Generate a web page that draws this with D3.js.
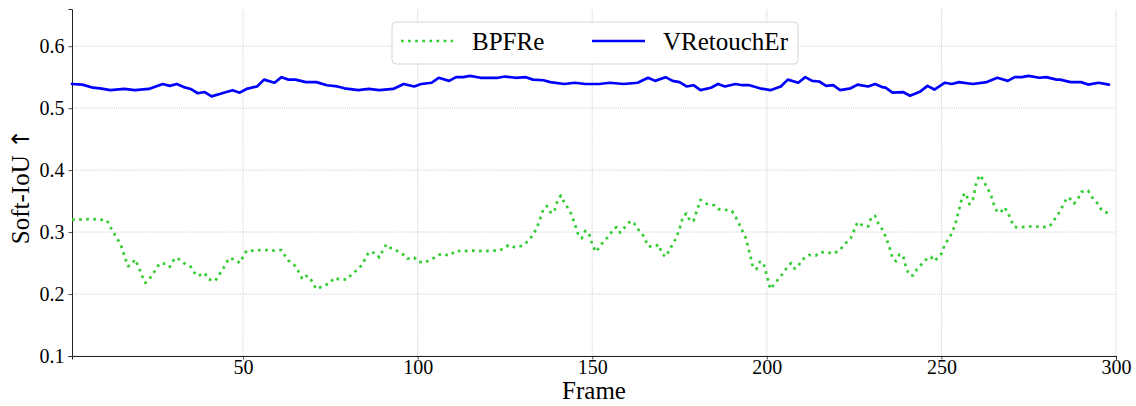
<!DOCTYPE html>
<html>
<head>
<meta charset="utf-8">
<script src="https://cdn.jsdelivr.net/npm/d3@7"></script>
<style>
  html, body { margin: 0; padding: 0; background: #fff; }
  svg { display: block; font-family: "Liberation Serif", "Times New Roman", serif; }
</style>
</head>
<body>
<svg id="chart" width="1136" height="406"></svg>
<script>
// ---- data ----
const seriesNames = ["BPFRe", "VRetouchEr"];
const xTicks = [50, 100, 150, 200, 250, 300];
const yTicks = [0.1, 0.2, 0.3, 0.4, 0.5, 0.6];
const xLabel = "Frame";
const yLabelText = "Soft-IoU ";
const yLabelArrow = "\u2191";

const bpfreFrames = [1,3,5,7,9,11,12,13,14,15,16,17,18,19,20,21,22,23,24,25,26,28,29,30,31,33,35,36,37,39,40,42,43,44,45,46,48,49,50,51,53,55,57,59,61,62,63,65,66,67,68,69,70,71,73,75,76,78,80,81,83,84,85,86,88,89,90,91,92,94,96,97,99,100,102,104,106,107,109,111,113,115,117,119,121,123,125,126,128,130,132,133,134,135,136,137,138,139,140,141,142,143,144,145,146,147,148,149,150,151,152,153,155,156,157,158,160,161,162,163,164,165,166,168,169,170,171,172,173,174,175,176,177,178,179,180,181,183,185,186,188,190,191,192,193,194,195,196,197,198,199,200,201,202,203,205,206,207,208,209,210,212,214,215,217,219,221,222,224,225,226,227,229,230,231,232,233,234,235,236,237,238,239,240,241,242,243,244,246,247,248,250,251,252,253,254,255,256,257,258,259,260,261,262,263,264,265,266,267,268,269,270,271,273,275,277,279,281,282,283,284,285,286,287,288,289,290,292,293,294,295,296,298];
const bpfreValues = [0.320,0.320,0.321,0.321,0.320,0.319,0.308,0.298,0.289,0.279,0.262,0.245,0.247,0.256,0.245,0.230,0.218,0.223,0.231,0.239,0.249,0.249,0.244,0.254,0.259,0.250,0.244,0.235,0.229,0.234,0.224,0.221,0.230,0.238,0.248,0.258,0.255,0.250,0.260,0.270,0.270,0.271,0.271,0.270,0.271,0.262,0.254,0.245,0.235,0.224,0.229,0.228,0.217,0.208,0.213,0.218,0.226,0.223,0.224,0.232,0.240,0.247,0.257,0.268,0.266,0.259,0.270,0.280,0.275,0.270,0.263,0.257,0.259,0.252,0.251,0.256,0.263,0.265,0.262,0.270,0.269,0.270,0.270,0.269,0.270,0.270,0.274,0.279,0.275,0.278,0.287,0.296,0.305,0.320,0.337,0.342,0.332,0.331,0.350,0.359,0.348,0.339,0.329,0.313,0.296,0.290,0.302,0.299,0.280,0.268,0.275,0.283,0.295,0.305,0.308,0.299,0.312,0.318,0.314,0.305,0.300,0.290,0.277,0.277,0.280,0.265,0.260,0.270,0.280,0.290,0.305,0.325,0.330,0.318,0.318,0.335,0.352,0.345,0.343,0.337,0.336,0.334,0.325,0.314,0.302,0.290,0.268,0.244,0.240,0.252,0.251,0.230,0.208,0.215,0.222,0.236,0.245,0.250,0.241,0.245,0.255,0.263,0.262,0.267,0.268,0.265,0.271,0.279,0.290,0.303,0.316,0.312,0.309,0.325,0.326,0.313,0.305,0.293,0.278,0.258,0.253,0.264,0.262,0.240,0.230,0.230,0.240,0.246,0.258,0.260,0.253,0.265,0.280,0.289,0.298,0.313,0.335,0.358,0.363,0.345,0.352,0.380,0.392,0.384,0.372,0.363,0.345,0.332,0.332,0.340,0.332,0.318,0.308,0.308,0.309,0.309,0.308,0.309,0.317,0.325,0.334,0.345,0.356,0.353,0.346,0.352,0.365,0.367,0.357,0.351,0.344,0.334,0.330];

const vretFrames = [1,4,7,9,12,16,19,23,27,29,31,33,35,37,39,41,44,47,49,51,54,56,59,61,63,65,68,71,74,77,79,83,86,89,93,96,99,101,104,106,109,111,113,115,118,123,125,128,131,133,136,138,142,145,148,152,155,159,163,166,168,171,173,175,177,179,181,184,186,188,191,193,195,198,201,204,206,209,211,213,215,217,219,221,224,226,229,231,233,234,236,239,241,244,246,248,251,253,255,259,263,266,269,271,273,275,278,280,283,284,287,290,292,295,298];
const vretValues = [0.539,0.538,0.533,0.532,0.529,0.531,0.529,0.531,0.539,0.536,0.539,0.534,0.531,0.524,0.526,0.519,0.524,0.529,0.525,0.531,0.535,0.546,0.541,0.550,0.546,0.546,0.542,0.542,0.537,0.535,0.532,0.529,0.531,0.529,0.531,0.539,0.535,0.539,0.541,0.549,0.544,0.550,0.550,0.552,0.549,0.549,0.551,0.549,0.550,0.546,0.545,0.542,0.539,0.541,0.539,0.539,0.541,0.539,0.541,0.549,0.544,0.550,0.544,0.542,0.535,0.537,0.529,0.533,0.539,0.535,0.539,0.537,0.537,0.532,0.529,0.535,0.546,0.541,0.550,0.544,0.543,0.536,0.537,0.529,0.532,0.538,0.535,0.539,0.534,0.533,0.525,0.526,0.520,0.527,0.536,0.530,0.541,0.539,0.542,0.539,0.542,0.549,0.544,0.550,0.550,0.552,0.549,0.550,0.546,0.546,0.542,0.542,0.538,0.541,0.538];

const colors = ["#33cc33", "#0000ff"];

// ---- layout ----
const svg = d3.select("#chart");
const x = d3.scaleLinear().domain([1, 300]).range([72, 1116]);
const y = d3.scaleLinear().domain([0.1, 0.66]).range([356, 9]);

// grid
const grid = svg.append("g").attr("class", "grid");
grid.selectAll("line.gx").data(xTicks).join("line")
  .attr("x1", d => x(d)).attr("x2", d => x(d))
  .attr("y1", y(0.1)).attr("y2", y(0.66))
  .attr("stroke", "#b0b0b0").attr("stroke-width", 0.8).attr("stroke-dasharray", "0.8,1.3");
grid.selectAll("line.gy").data(yTicks).join("line")
  .attr("x1", x(1)).attr("x2", x(300))
  .attr("y1", d => y(d)).attr("y2", d => y(d))
  .attr("stroke", "#b0b0b0").attr("stroke-width", 0.8).attr("stroke-dasharray", "0.8,1.3");

// axes
const xAxis = d3.axisBottom(x).tickValues(xTicks).tickSize(3.5).tickPadding(0.5).tickFormat(d3.format("d"));
const yAxis = d3.axisLeft(y).tickValues(yTicks).tickSize(3.5).tickPadding(4).tickFormat(d3.format(".1f"));
const gx = svg.append("g").attr("transform", `translate(0,${y(0.1)})`).call(xAxis);
const gy = svg.append("g").attr("transform", `translate(${x(1)},0)`).call(yAxis);
[gx, gy].forEach(g => {
  g.select(".domain").attr("stroke", "#222").attr("stroke-width", 1);
  g.selectAll(".tick line").attr("stroke", "#222").attr("stroke-width", 0.8);
  g.selectAll(".tick text").attr("fill", "#000").style("font-size", "20px")
    .style("font-family", "'Liberation Serif', 'Times New Roman', serif");
});

// axis labels
svg.append("text").attr("x", (x(1) + x(300)) / 2).attr("y", 399)
  .attr("text-anchor", "middle").style("font-size", "25px").text(xLabel);
const yl = svg.append("text").attr("transform", `translate(29,${(y(0.1) + y(0.66)) / 2 + 4}) rotate(-90)`)
  .attr("text-anchor", "middle").style("font-size", "25px");
yl.append("tspan").text(yLabelText);
yl.append("tspan").style("font-family", "'DejaVu Sans', sans-serif").style("font-size", "24px").text(yLabelArrow);

// lines
const line = d3.line().x(d => x(d[0])).y(d => y(d[1]));
const bpfre = d3.zip(bpfreFrames, bpfreValues);
const vret = d3.zip(vretFrames, vretValues);

svg.append("path").datum(bpfre).attr("d", line)
  .attr("fill", "none").attr("stroke", colors[0]).attr("stroke-width", 2.7)
  .attr("stroke-dasharray", "2.7,4.4").attr("stroke-linejoin", "round");
svg.append("path").datum(vret).attr("d", line)
  .attr("fill", "none").attr("stroke", colors[1]).attr("stroke-width", 2.7)
  .attr("stroke-linejoin", "round").attr("stroke-linecap", "round");

// legend
const lg = svg.append("g");
lg.append("rect").attr("x", 392).attr("y", 22).attr("width", 406).attr("height", 42)
  .attr("rx", 4).attr("fill", "#fff").attr("fill-opacity", 0.85)
  .attr("stroke", "#d6d6d6").attr("stroke-width", 1);
const legendItems = [
  { name: seriesNames[0], color: colors[0], dash: "2.7,4.4", x0: 401, x1: 453, tx: 472 },
  { name: seriesNames[1], color: colors[1], dash: null, x0: 592, x1: 645, tx: 663 }
];
legendItems.forEach(it => {
  lg.append("line").attr("x1", it.x0).attr("x2", it.x1).attr("y1", 41).attr("y2", 41)
    .attr("stroke", it.color).attr("stroke-width", 2.7)
    .attr("stroke-dasharray", it.dash);
  lg.append("text").attr("x", it.tx).attr("y", 50).style("font-size", "25px").text(it.name);
});
</script>
</body>
</html>
